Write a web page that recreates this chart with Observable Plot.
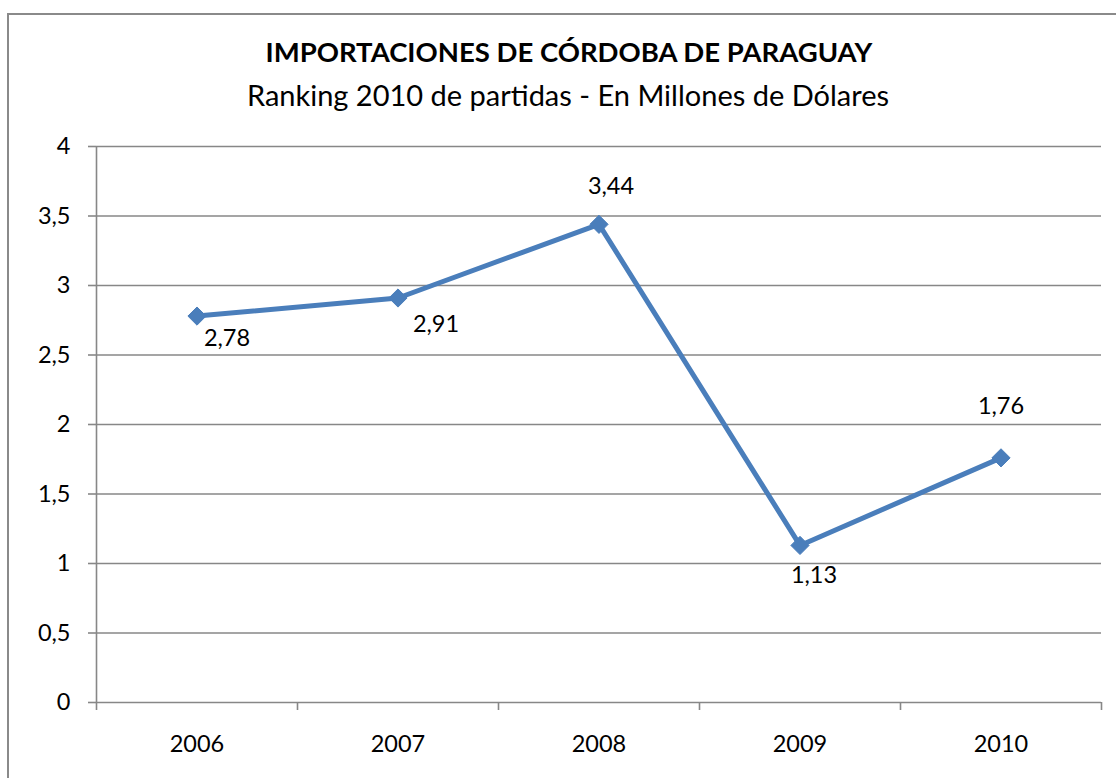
<!DOCTYPE html>
<html>
<head>
<meta charset="utf-8">
<script src="https://cdn.jsdelivr.net/npm/d3@7"></script>
<script src="https://cdn.jsdelivr.net/npm/@observablehq/plot@0.6"></script>
<style>
  html, body { margin: 0; padding: 0; background: #fff; }
  #wrap { position: relative; width: 1116px; height: 778px; overflow: hidden; font-family: Lato, "Open Sans", sans-serif; }
  #frame { position: absolute; left: 7px; top: 13px; width: 1200px; height: 900px;
           border-left: 2px solid #8a8a8a; border-top: 2px solid #8a8a8a; box-sizing: border-box; pointer-events: none; }
  #head { position: relative; height: 120px; width: 1116px; }
  #title { position: absolute; left: 0; width: 1138px; top: 37px; text-align: center;
           font-weight: bold; font-size: 27.5px; line-height: 30px; color: #000; }
  #subtitle { position: absolute; left: 0; width: 1136px; top: 80px; text-align: center;
              font-size: 29px; line-height: 30px; color: #000; }
</style>
</head>
<body>
<div id="wrap">
  <div id="frame"></div>
  <div id="head">
    <div id="title">IMPORTACIONES DE CÓRDOBA DE PARAGUAY</div>
    <div id="subtitle">Ranking 2010 de partidas - En Millones de Dólares</div>
  </div>
  <div id="chart"></div>
</div>
<script>
const years = [2006, 2007, 2008, 2009, 2010];
const values = [2.78, 2.91, 3.44, 1.13, 1.76];
const yTicks = [0, 0.5, 1, 1.5, 2, 2.5, 3, 3.5, 4];

const data = years.map((y, i) => ({year: y, value: values[i]}));
const fmt = v => String(v).replace(".", ",");
const bounds = [years[0] - 0.5].concat(years.map(y => y + 0.5));

const blue = "#4A7EBB";
const gray = "#878787";
const font = "Lato, 'Open Sans', sans-serif";

const labelStyle = {fontSize: 23.5, fill: "#000", fontFamily: font};

const chart = Plot.plot({
  width: 1116,
  height: 658,
  marginLeft: 96,
  marginRight: 15,
  marginTop: 26,
  marginBottom: 76,
  style: {fontFamily: font, background: "#fff", overflow: "visible"},
  x: {type: "linear", domain: [bounds[0], bounds[bounds.length - 1]]},
  y: {domain: [0, 4]},
  marks: [
    Plot.ruleY(yTicks.filter(t => t > 0), {stroke: gray, strokeWidth: 1.4, strokeOpacity: 1}),
    Plot.ruleY([0], {stroke: gray, strokeWidth: 1.6, strokeOpacity: 1}),
    Plot.ruleX([bounds[0]], {stroke: gray, strokeWidth: 1.6, strokeOpacity: 1, y1: 0, y2: 4}),
    Plot.axisY({ticks: yTicks, tickFormat: fmt, tickSize: 8, tickPadding: 18, stroke: gray, strokeWidth: 1.6, strokeOpacity: 1, fontSize: 23.5, fill: "#000", label: null}),
    Plot.axisX({ticks: bounds, tickFormat: () => "", tickSize: 8, stroke: gray, strokeWidth: 1.6, strokeOpacity: 1, label: null}),
    Plot.axisX({ticks: years, tickFormat: d => String(d), tickSize: 0, tickPadding: 33, fontSize: 23.5, fill: "#000", label: null}),
    Plot.line(data, {x: "year", y: "value", stroke: blue, strokeWidth: 5, strokeLinejoin: "miter"}),
    Plot.dot(data, {x: "year", y: "value", symbol: "diamond2", r: 8.2, fill: blue, stroke: blue, strokeWidth: 1}),
    Plot.text(data.filter((d, i) => i === 0), {x: "year", y: "value", text: d => fmt(d.value), dx: 30, dy: 22, ...labelStyle}),
    Plot.text(data.filter((d, i) => i === 1), {x: "year", y: "value", text: d => fmt(d.value), dx: 38, dy: 26, ...labelStyle}),
    Plot.text(data.filter((d, i) => i === 2), {x: "year", y: "value", text: d => fmt(d.value), dx: 12, dy: -38, ...labelStyle}),
    Plot.text(data.filter((d, i) => i === 3), {x: "year", y: "value", text: d => fmt(d.value), dx: 14, dy: 30, ...labelStyle}),
    Plot.text(data.filter((d, i) => i === 4), {x: "year", y: "value", text: d => fmt(d.value), dx: 0, dy: -51, ...labelStyle})
  ]
});
document.getElementById("chart").appendChild(chart);
</script>
</body>
</html>
